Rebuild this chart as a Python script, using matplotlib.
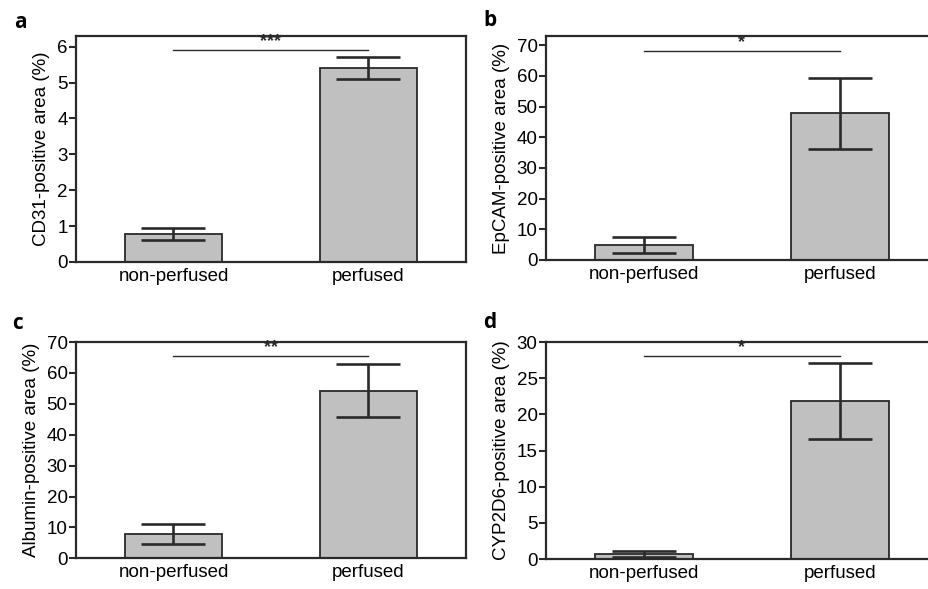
import numpy as np
import matplotlib.pyplot as plt

plt.rcParams['font.family'] = ['Liberation Sans', 'DejaVu Sans']

# Data
groups = ['non-perfused', 'perfused']
letters = ['a', 'b', 'c', 'd']
ylabels = ['CD31-positive area (%)', 'EpCAM-positive area (%)',
           'Albumin-positive area (%)', 'CYP2D6-positive area (%)']
means = [[0.78, 5.40], [4.8, 47.8], [7.8, 54.3], [0.7, 21.8]]
errs = [[0.16, 0.31], [2.6, 11.5], [3.2, 8.5], [0.45, 5.25]]
stars = ['***', '*', '**', '*']
sig_y = [5.9, 68.2, 65.4, 28.1]
ylims = [6.3, 73, 70, 30]
yticks = [np.arange(0, 7, 1), np.arange(0, 80, 10),
          np.arange(0, 80, 10), np.arange(0, 35, 5)]

# axes positions [left, bottom, width, height]
positions = [[0.0818, 0.5552, 0.4198, 0.3837],
             [0.5877, 0.5586, 0.4220, 0.3803],
             [0.0818, 0.0521, 0.4198, 0.3672],
             [0.5877, 0.0509, 0.4220, 0.3684]]
# panel letter positions (figure fraction)
letter_xy = [(0.022, 0.962), (0.527, 0.966), (0.019, 0.451), (0.527, 0.453)]

edge = '#2a2a2a'
fig = plt.figure(figsize=(9.29, 5.89), dpi=100)

for i in range(4):
    ax = fig.add_axes(positions[i])
    x = np.arange(len(groups))
    ax.bar(x, means[i], width=0.5, color='#c0c0c0', edgecolor=edge,
           linewidth=1.3, zorder=2)
    ax.errorbar(x, means[i], yerr=errs[i], fmt='none', ecolor=edge,
                elinewidth=1.9, capsize=23, capthick=1.9, zorder=3)
    # significance bar
    ax.plot([0, 1], [sig_y[i], sig_y[i]], color=edge, lw=1.0)
    ax.text(0.5, sig_y[i], stars[i], ha='center', va='bottom',
            fontsize=13, fontweight='bold', color=edge)
    ax.set_xlim(-0.5, 1.5)
    ax.set_ylim(0, ylims[i])
    ax.set_yticks(yticks[i])
    ax.set_xticks(x)
    ax.set_xticklabels(groups, fontsize=13.5)
    ax.tick_params(axis='x', length=0, pad=4)
    ax.tick_params(axis='y', direction='out', length=5, width=1.5,
                   labelsize=13.5, color=edge, pad=1)
    ax.set_ylabel(ylabels[i], fontsize=13.5, labelpad=5)
    for s in ax.spines.values():
        s.set_linewidth(1.6)
        s.set_color(edge)

    fig.text(letter_xy[i][0], letter_xy[i][1], letters[i],
             fontsize=15, fontweight='bold', family='Open Sans',
             ha='center', va='center')

plt.savefig('out.png', dpi=100)
